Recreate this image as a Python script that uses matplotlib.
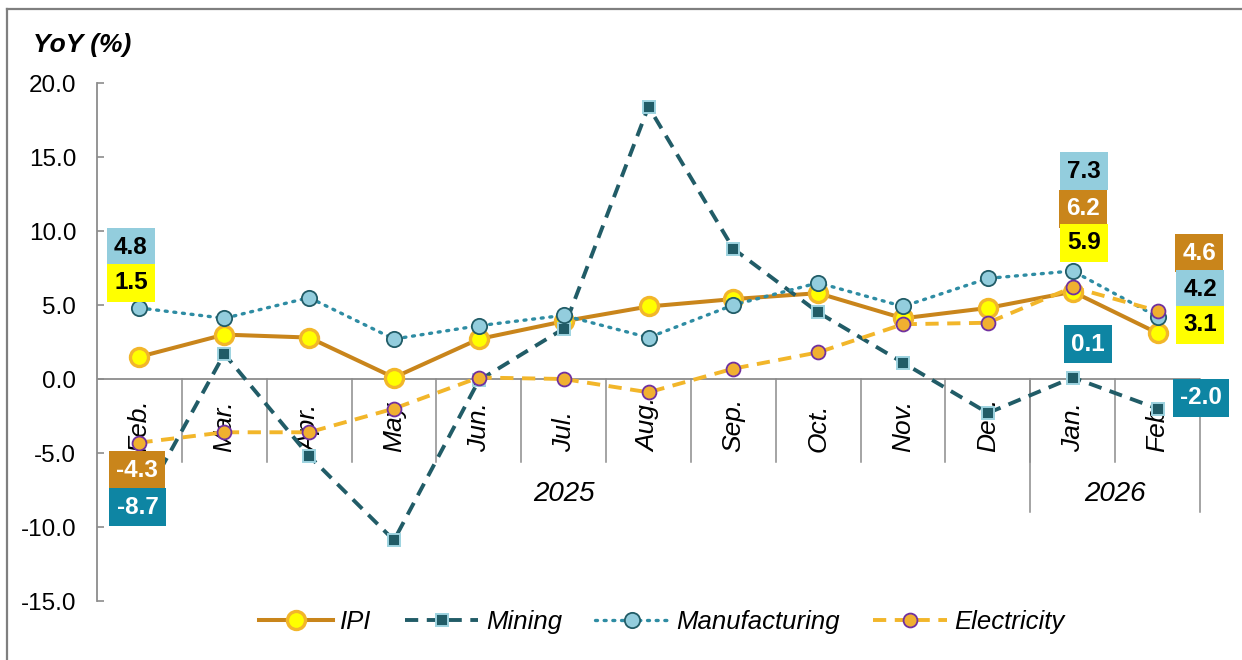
import numpy as np
import matplotlib.pyplot as plt
from matplotlib.lines import Line2D

plt.rcParams['font.family'] = ['Liberation Sans', 'DejaVu Sans']

# data
months = ['Feb.', 'Mar.', 'Apr.', 'May', 'Jun.', 'Jul.', 'Aug.', 'Sep.', 'Oct.', 'Nov.', 'Dec.', 'Jan.', 'Feb.']
years = ['2025', '2026']
year_span = [(0, 10), (11, 12)]
ipi = [1.5, 3.0, 2.8, 0.1, 2.7, 3.9, 4.9, 5.4, 5.8, 4.1, 4.8, 5.9, 3.1]
mining = [-8.7, 1.7, -5.2, -10.9, -0.1, 3.4, 18.4, 8.8, 4.5, 1.1, -2.3, 0.1, -2.0]
manuf = [4.8, 4.1, 5.5, 2.7, 3.6, 4.3, 2.8, 5.0, 6.5, 4.9, 6.8, 7.3, 4.2]
elec = [-4.3, -3.6, -3.6, -2.0, 0.1, 0.0, -0.9, 0.7, 1.8, 3.7, 3.8, 6.2, 4.6]
yticks = [20.0, 15.0, 10.0, 5.0, 0.0, -5.0, -10.0, -15.0]

c_ipi = '#C9851B'
c_ipi_edge = '#F2B62A'
c_min = '#215C67'
c_min_edge = '#9DD3E0'
c_man = '#2E8CA3'
c_man_face = '#93CDDD'
c_ele = '#F2B62A'
c_ele_face = '#F0B030'
c_purple = '#7030A0'
c_lbl_teal = '#0E85A3'
grey = '#8C8C8C'

fig = plt.figure(figsize=(12.42, 6.6), dpi=100)
ax = fig.add_axes([97/1242, 1-601/660, (1200-97)/1242, (601-83)/660])
x = np.arange(len(months))

ax.plot(x, ipi, '-', color=c_ipi, lw=2.9, marker='o', ms=13, mfc='#FFFF00',
        mec=c_ipi_edge, mew=2.4, label='IPI', zorder=3)
ax.plot(x, mining, '--', color=c_min, lw=2.8, dashes=(3.4, 2.2), marker='s', ms=9,
        mfc=c_min, mec=c_min_edge, mew=1.4, label='Mining', zorder=4)
ax.plot(x, manuf, ':', color=c_man, lw=2.4, dashes=(0.6, 2.0), dash_capstyle='round',
        marker='o', ms=11, mfc=c_man_face, mec=c_min, mew=1.3,
        label='Manufacturing', zorder=5)
ax.plot(x, elec, '--', color=c_ele, lw=2.8, dashes=(3.4, 2.2), marker='o', ms=10,
        mfc=c_ele_face, mec=c_purple, mew=1.3, label='Electricity', zorder=6)

ax.set_xlim(-0.5, len(months) - 0.5)
ax.set_ylim(-15, 20)
ax.set_yticks(yticks)
ax.set_yticklabels(['%.1f' % v for v in yticks])
ax.tick_params(axis='y', direction='in', length=5, width=1.2, color=grey,
               labelsize=17.5, pad=15)
ax.set_xticks([])
for s in ['top', 'right', 'bottom']:
    ax.spines[s].set_visible(False)
ax.spines['left'].set_color(grey)
ax.spines['left'].set_linewidth(1.3)
ax.axhline(0, color=grey, lw=1.3, zorder=1)

# multi-level category axis drawn under the zero line
for i, m in enumerate(months):
    ax.text(i, -4.95, m, rotation=90, ha='center', va='bottom', fontsize=19,
            style='italic')
for b in np.arange(0.5, len(months) - 1, 1.0):
    ax.plot([b, b], [0, -5.6], color=grey, lw=1.1, clip_on=False, zorder=1)
for b in [10.5, 12.5]:
    ax.plot([b, b], [0, -9.0], color=grey, lw=1.1, clip_on=False, zorder=1)
for yl, (a, b) in zip(years, year_span):
    ax.text((a + b) / 2, -7.75, yl, ha='center', va='center', fontsize=20,
            style='italic')

# data labels
def lab(xp, yp, s, fc, tc):
    ax.text(xp, yp, s, ha='center', va='center', fontsize=17.5, fontweight='bold',
            color=tc, zorder=10, clip_on=False,
            bbox=dict(boxstyle='square,pad=0.3', fc=fc, ec='none'))

lab(-0.1, 8.9, '%.1f' % manuf[0], c_man_face, 'black')
lab(-0.1, 6.5, '%.1f' % ipi[0], '#FFFF00', 'black')
lab(-0.03, -6.15, '%.1f' % elec[0], c_ipi, 'white')
lab(-0.02, -8.65, '%.1f' % mining[0], c_lbl_teal, 'white')
lab(11.13, 14.05, '%.1f' % manuf[11], c_man_face, 'black')
lab(11.12, 11.5, '%.1f' % elec[11], c_ipi, 'white')
lab(11.13, 9.2, '%.1f' % ipi[11], '#FFFF00', 'black')
lab(11.18, 2.36, '%.1f' % mining[11], c_lbl_teal, 'white')
lab(12.49, 8.5, '%.1f' % elec[12], c_ipi, 'white')
lab(12.5, 6.08, '%.1f' % manuf[12], c_man_face, 'black')
lab(12.5, 3.65, '%.1f' % ipi[12], '#FFFF00', 'black')
lab(12.51, -1.28, '%.1f' % mining[12], c_lbl_teal, 'white')

fig.text(82/1242, 1-45/660, 'YoY (%)', ha='center', va='center', fontsize=19,
         fontweight='bold', style='italic')

leg = fig.legend(loc='center', bbox_to_anchor=(0.533, 1-622/660), ncol=4,
                 frameon=False, handlelength=2.85, handletextpad=0.3,
                 columnspacing=1.3, prop={'size': 18.5, 'style': 'italic'})

# chart frame (top and left edges)
fig.add_artist(Line2D([7/1242, 7/1242], [0, 1-9/660], color='#7F7F7F', lw=1.6,
                      transform=fig.transFigure))
fig.add_artist(Line2D([7/1242, 1], [1-9/660, 1-9/660], color='#7F7F7F', lw=1.6,
                      transform=fig.transFigure))

fig.savefig('out.png', dpi=100)
